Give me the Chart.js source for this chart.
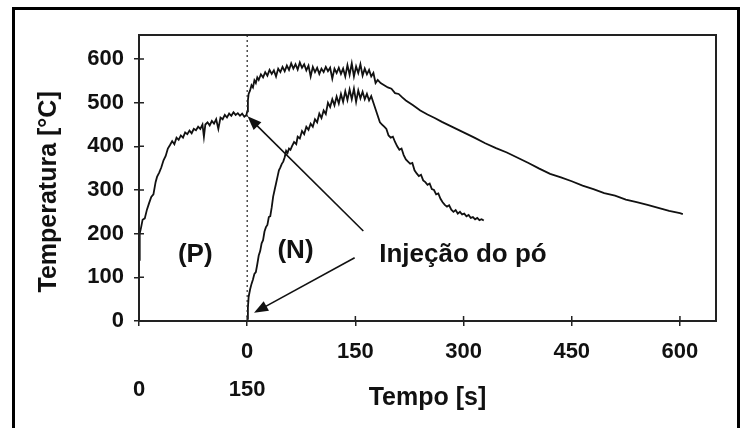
<!DOCTYPE html>
<html>
<head>
<meta charset="utf-8">
<script src="https://cdn.jsdelivr.net/npm/chart.js@4.4.1/dist/chart.umd.min.js"></script>
<style>
  html, body { margin: 0; padding: 0; background: #fff; }
  #wrap { width: 749px; height: 428px; position: relative; }
</style>
</head>
<body>
<div id="wrap"><canvas id="chart" width="749" height="428"></canvas></div>
<script>
// (P) heating curve, plotted on the -150..0 stretch of the axis
const pTime = [-150,-149,-147,-145,-142,-139,-136,-133,-130,-127,-125,-122,-119,-116,-113,-110,-107,-104,-101,-98,-95,-92,-89,-86,-83,-80,-77,-74,-71,-68,-65,-62,-60,-58,-55,-52,-49,-46,-43,-40,-37,-34,-31,-28,-25,-22,-19,-16,-13,-10,-7,-4,-1,0];
const pTemp = [140,200,215,232,235,255,270,284,290,318,330,340,352,368,378,395,403,412,405,420,415,425,420,432,428,436,430,440,437,445,440,450,422,450,455,448,458,452,462,440,466,462,472,466,475,470,478,472,476,470,475,468,472,480];

// upper curve after powder injection
const upTime = [0,1,2,4,6,8,10,12,14,16,19,22,25,28,31,34,37,40,43,46,49,52,55,58,61,64,67,70,73,76,79,82,85,88,91,94,97,100,103,106,109,112,115,118,121,124,127,130,133,136,139,142,145,148,151,154,157,160,163,166,169,172,175,178,181,185,190,195,200,205,210,215,220,230,240,250,260,270,280,290,300,315,330,345,360,375,390,405,420,435,450,465,480,495,510,525,540,555,570,585,600,604];
const upTemp = [480,505,520,528,540,535,551,545,558,552,565,558,570,562,575,566,574,560,578,570,582,572,585,575,590,578,588,576,592,580,588,574,585,560,582,570,580,566,578,570,582,572,580,555,578,568,580,566,578,560,586,564,590,560,583,568,588,562,578,565,575,560,568,545,552,545,540,535,532,522,520,512,505,494,482,473,465,456,448,440,432,420,407,396,386,374,362,349,337,329,320,310,302,293,287,278,272,266,259,252,247,245];

// (N) curve starting from 0 at injection
const nTime = [0,1,2,4,6,8,10,12,14,16,18,20,22,24,26,28,30,32,34,36,38,40,42,44,46,48,50,52,54,56,58,60,62,65,68,70,73,76,79,82,85,88,91,94,97,100,103,106,109,112,115,118,121,124,127,130,133,136,139,142,145,148,151,154,157,160,163,166,169,172,175,178,181,184,187,190,193,196,199,202,205,208,211,214,217,220,223,226,229,232,235,238,241,244,247,250,253,256,259,262,265,268,271,274,277,280,283,286,289,292,295,298,301,304,307,310,313,316,319,322,325,328];
const nTemp = [5,30,55,72,85,95,108,112,130,150,160,178,185,205,215,220,238,240,260,285,300,315,330,345,352,360,365,375,390,385,395,392,400,410,405,422,418,435,428,445,438,452,445,462,455,475,465,482,474,500,490,508,494,514,498,520,502,526,506,530,508,532,502,528,510,525,508,520,505,515,500,485,470,455,450,445,440,425,420,422,410,400,392,395,380,370,365,360,362,345,338,332,335,322,318,312,315,302,300,290,292,280,272,266,262,265,255,250,254,246,250,244,246,240,243,236,238,233,236,231,233,230];

const xTicks = [-150, 0, 150, 300, 450, 600];
const xLabelsTop = ['', '0', '150', '300', '450', '600'];
const xLabelsBottom = ['0', '150', '', '', '', ''];
const yTicks = [0, 100, 200, 300, 400, 500, 600];

const INK = '#111';
const toPts = (xs, ys) => xs.map((x, i) => ({ x, y: ys[i] }));

const tickFont = { family: 'Liberation Sans', weight: 'bold', size: 22 };
const titleFont = { family: 'Liberation Sans', weight: 'bold', size: 25 };

const decor = {
  id: 'decor',
  afterDraw(chart) {
    const { ctx, chartArea: a, scales: { x, y } } = chart;
    ctx.save();
    // plot box
    ctx.strokeStyle = '#222';
    ctx.lineWidth = 2;
    ctx.strokeRect(a.left, a.top, a.right - a.left, a.bottom - a.top);
    // inner halves of tick marks
    ctx.lineWidth = 1.5;
    ctx.beginPath();
    xTicks.forEach(v => { const px = x.getPixelForValue(v); ctx.moveTo(px, a.bottom); ctx.lineTo(px, a.bottom - 5); });
    yTicks.forEach(v => { const py = y.getPixelForValue(v); ctx.moveTo(a.left, py); ctx.lineTo(a.left + 5, py); });
    ctx.stroke();
    // dotted injection line
    ctx.setLineDash([2, 3]);
    ctx.lineWidth = 1.2;
    ctx.beginPath();
    ctx.moveTo(x.getPixelForValue(0), a.top);
    ctx.lineTo(x.getPixelForValue(0), a.bottom);
    ctx.stroke();
    ctx.setLineDash([]);
    // arrows
    const arrow = (x0, y0, x1, y1) => {
      const ax = x.getPixelForValue(x0), ay = y.getPixelForValue(y0);
      const bx = x.getPixelForValue(x1), by = y.getPixelForValue(y1);
      const ang = Math.atan2(by - ay, bx - ax);
      const len = 14, half = 5.5;
      ctx.strokeStyle = INK;
      ctx.lineWidth = 1.6;
      ctx.beginPath();
      ctx.moveTo(ax, ay);
      ctx.lineTo(bx - Math.cos(ang) * len * 0.8, by - Math.sin(ang) * len * 0.8);
      ctx.stroke();
      ctx.fillStyle = INK;
      ctx.beginPath();
      ctx.moveTo(bx, by);
      ctx.lineTo(bx - Math.cos(ang) * len - Math.sin(ang) * half, by - Math.sin(ang) * len + Math.cos(ang) * half);
      ctx.lineTo(bx - Math.cos(ang) * len + Math.sin(ang) * half, by - Math.sin(ang) * len - Math.cos(ang) * half);
      ctx.closePath();
      ctx.fill();
    };
    arrow(161, 206, 0.5, 469);
    arrow(149, 145, 9.5, 19);
    // labels
    ctx.fillStyle = INK;
    ctx.font = 'bold 26px "Liberation Sans"';
    ctx.textBaseline = 'middle';
    ctx.textAlign = 'center';
    ctx.fillText('(P)', x.getPixelForValue(-72), y.getPixelForValue(151));
    ctx.fillText('(N)', x.getPixelForValue(67), y.getPixelForValue(160));
    ctx.textAlign = 'left';
    ctx.fillText('Injeção do pó', x.getPixelForValue(183), y.getPixelForValue(151));
    // outer frame
    ctx.strokeStyle = '#000';
    ctx.lineWidth = 3;
    ctx.strokeRect(13.5, 8.5, 725, 440);
    ctx.restore();
  }
};

new Chart(document.getElementById('chart'), {
  type: 'scatter',
  data: {
    datasets: [
      { data: toPts(pTime, pTemp) },
      { data: toPts(upTime, upTemp) },
      { data: toPts(nTime, nTemp) },
    ].map(ds => ({
      ...ds,
      showLine: true,
      borderColor: INK,
      borderWidth: 1.8,
      pointRadius: 0,
      tension: 0,
    })),
  },
  options: {
    responsive: false,
    animation: false,
    events: [],
    layout: { padding: { top: 35, right: 33, bottom: 0, left: 0 } },
    plugins: { legend: { display: false }, tooltip: { enabled: false } },
    scales: {
      x: {
        type: 'linear',
        min: -150,
        max: 650,
        afterBuildTicks: s => { s.ticks = xTicks.map(v => ({ value: v })); },
        afterFit: s => { s.height = 107; },
        ticks: {
          autoSkip: false,
          maxRotation: 0,
          padding: 7,
          color: INK,
          font: { ...tickFont, lineHeight: 1.73 },
          callback: v => {
            const i = xTicks.indexOf(v);
            return [xLabelsTop[i], xLabelsBottom[i]];
          },
        },
        grid: { drawOnChartArea: false, tickLength: 5, color: '#222', lineWidth: 1.5 },
        border: { color: '#222', width: 2 },
        title: { display: true, text: 'Tempo [s]', color: INK, font: titleFont, padding: { top: 0, bottom: 15 } },
      },
      y: {
        min: 0,
        max: 655,
        afterBuildTicks: s => { s.ticks = yTicks.map(v => ({ value: v })); },
        afterFit: s => { s.width = 139; },
        ticks: { padding: 10, color: INK, font: tickFont },
        grid: { drawOnChartArea: false, tickLength: 5, color: '#222', lineWidth: 1.5 },
        border: { color: '#222', width: 2 },
        title: { display: true, text: 'Temperatura [°C]    ', color: INK, font: titleFont, padding: { top: 34, bottom: 0 } },
      },
    },
  },
  plugins: [decor],
});
</script>
</body>
</html>
